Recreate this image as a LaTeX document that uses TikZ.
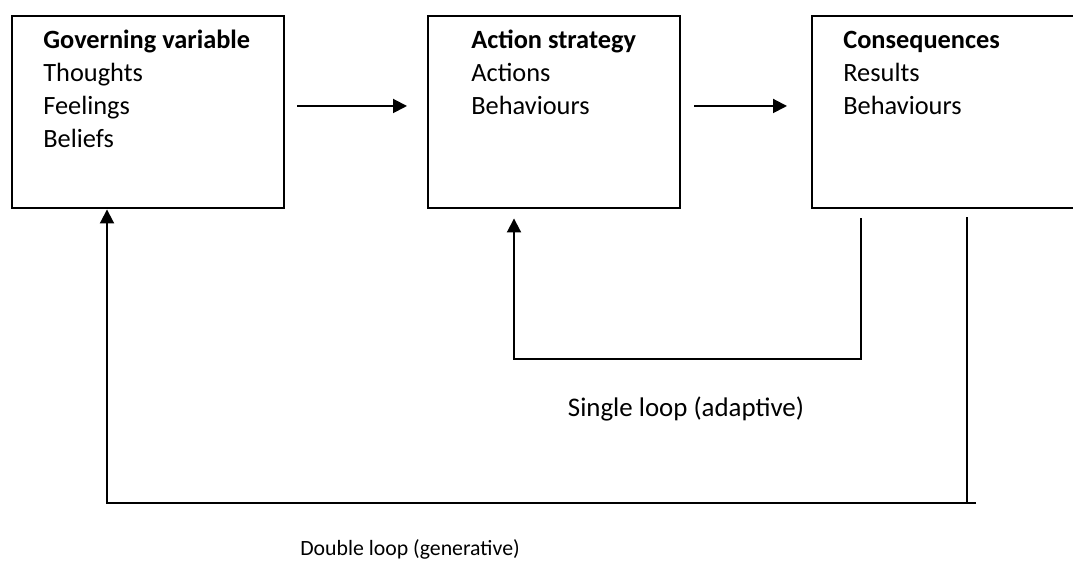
\documentclass[tikz,border=0pt]{standalone}
\usepackage{fontspec}
\setmainfont{Carlito}
\usetikzlibrary{arrows.meta,calc}

\begin{document}
\begin{tikzpicture}[
  box/.style={draw, line width=1.4pt, anchor=north west, minimum height=3.84cm, inner sep=0pt},
  boxtext/.style={anchor=base west, inner sep=0pt, font=\fontsize{15}{18.6}\selectfont},
  arr/.style={-{Triangle[length=0.28cm,width=0.28cm]}, line width=1.1pt},
  loopline/.style={line width=1.1pt},
  looplabel/.style={anchor=base, inner sep=0pt}
]
\clip (0,0) rectangle (21.46,11.3);
% the three boxes
\node[box, minimum width=5.44cm] (gov) at (0.22,11.0) {};
\node[box, minimum width=5.04cm] (act) at (8.54,11.0) {};
\node[box, minimum width=6cm] (cons) at (16.22,11.0) {};
\node[boxtext] (govtext) at ($(gov.north west)+(0.64,-0.68)$)
  {\begin{tabular}[t]{@{}l@{}}\textbf{Governing variable}\\Thoughts\\Feelings\\Beliefs\end{tabular}};
\node[boxtext] (acttext) at ($(act.north west)+(0.88,-0.68)$)
  {\begin{tabular}[t]{@{}l@{}}\textbf{Action strategy}\\Actions\\Behaviours\end{tabular}};
\node[boxtext] (constext) at ($(cons.north west)+(0.64,-0.68)$)
  {\begin{tabular}[t]{@{}l@{}}\textbf{Consequences}\\Results\\Behaviours\end{tabular}};
% forward arrows
\coordinate (f1) at ($(gov.north east)+(0.24,-1.82)$);
\coordinate (f2) at ($(act.north west)+(-0.4,-1.82)$);
\coordinate (f3) at ($(act.north east)+(0.26,-1.82)$);
\coordinate (f4) at ($(cons.north west)+(-0.48,-1.82)$);
\draw[arr] (f1) -- (f2);
\draw[arr] (f3) -- (f4);
% single loop
\coordinate (s1) at ($(cons.south west)+(1.0,-0.18)$);
\coordinate (s2) at ($(act.south west)+(1.74,-0.18)$);
\draw[arr] (s1) -- (s1 |- 0,4.12) -| (s2);
\node[looplabel, font=\fontsize{15.3}{18}\selectfont] (single) at (13.72,2.96) {Single loop (adaptive)};
% double loop
\coordinate (d1) at ($(cons.south west)+(3.12,-0.16)$);
\coordinate (d2) at ($(gov.south west)+(1.92,0)$);
\coordinate (d3) at ($(d1 |- 0,1.24)+(0.18,0)$);
\draw[loopline] (d1) -- (d1 |- d3);
\draw[arr] (d3) -| (d2);
\node[looplabel, font=\fontsize{12.4}{15}\selectfont] (double) at (8.2,0.18) {Double loop (generative)};
\end{tikzpicture}
\end{document}
